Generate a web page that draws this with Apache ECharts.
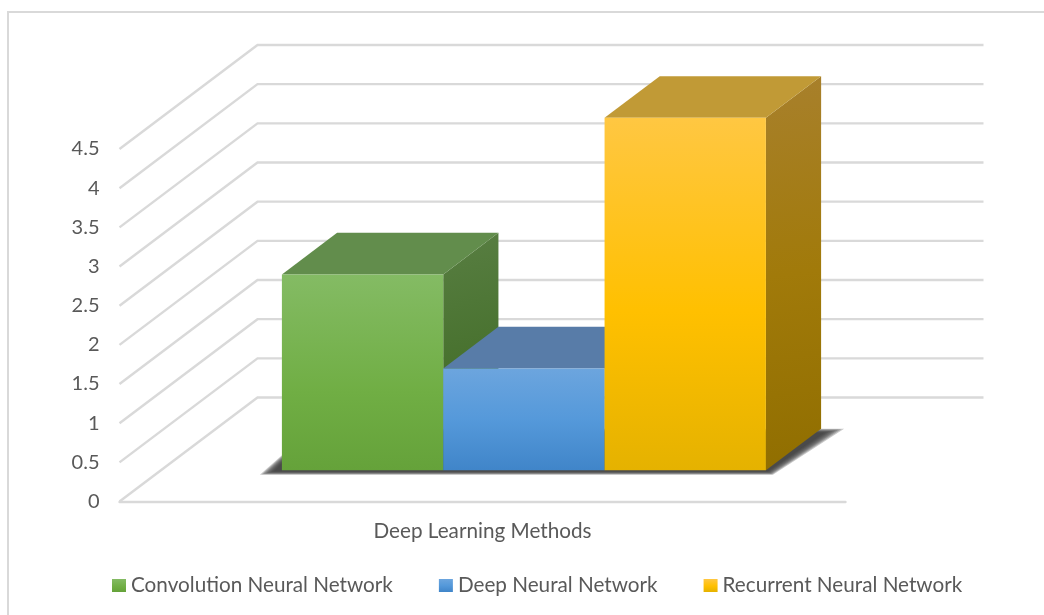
<!DOCTYPE html>
<html>
<head>
<meta charset="utf-8">
<style>html,body{margin:0;padding:0;background:#fff}#c{width:1044px;height:615px}</style>
<script src="https://cdn.jsdelivr.net/npm/echarts@6/dist/echarts.min.js"></script>
</head>
<body>
<div id="c"></div>
<script>
const categories = ["Deep Learning Methods"];
const seriesNames = ["Convolution Neural Network", "Deep Neural Network", "Recurrent Neural Network"];
const convolutionValues = [2.5];
const deepValues = [1.3];
const recurrentValues = [4.5];
const yTicks = [0, 0.5, 1, 1.5, 2, 2.5, 3, 3.5, 4, 4.5];

const G = (x2, y2, stops) => new echarts.graphic.LinearGradient(0, 0, x2, y2,
  stops.map((c, i) => ({offset: c[0], color: c[1]})));
const palette = [
  {front: [[0,'#84bb64'],[0.6,'#70ae44'],[1,'#65a23a']],
   side: [[0,'#587e42'],[0.6,'#46702c'],[1,'#426a28']], top: '#628d4c'},
  {front: [[0,'#6ca5de'],[0.5,'#5599da'],[1,'#4085c9']],
   side: [[0,'#46709c'],[1,'#2f5f8f']], top: '#587ca8'},
  {front: [[0,'#ffc742'],[0.55,'#ffc000'],[1,'#e5b200']],
   side: [[0,'#a8802c'],[0.5,'#a17a0a'],[1,'#906e00']], top: '#c19a36'}
];
const WALL_DX = 138, WALL_DY = -104, NEAR = 0.3, FAR = 0.7, GAP_RATIO = 4.5;
const LINE = '#d9d9d9';
const FONT = 'Lato';
const SHADOW_LAYERS = 8;

function wallItem(params, api) {
  const cs = params.coordSys;
  const y = api.coord([0, api.value(1)])[1];
  return {
    type: 'polyline', silent: true,
    shape: {points: [[cs.x, y], [cs.x + WALL_DX, y + WALL_DY], [cs.x + cs.width + WALL_DX, y + WALL_DY]]},
    style: {stroke: LINE, lineWidth: 2.4, fill: null}
  };
}

function shadowItem(params, api) {
  const c = api.coord([0, 0]);
  const w = api.size([1, 0])[0] / GAP_RATIO;
  const x0 = c[0] - 1.5 * w + WALL_DX * NEAR, x1 = c[0] + 1.5 * w + WALL_DX * NEAR;
  const yn = c[1] + WALL_DY * NEAR;
  const dx = WALL_DX * (FAR - NEAR), dy = WALL_DY * (FAR - NEAR);
  const children = [];
  for (let k = 0; k < SHADOW_LAYERS; k++) {
    const t = 1 - k / (SHADOW_LAYERS - 1);
    children.push({
      type: 'polygon', silent: true,
      shape: {points: [
        [x0 - 8 - 14 * t, yn + 1 + 3.5 * t],
        [x1 + 2 + 5 * t, yn + 1 + 3.5 * t],
        [x1 + dx + 3 + 20 * t, yn + dy + 4 - 4 * t],
        [x0 + 30, yn + dy + 4 - 4 * t]
      ]},
      style: {fill: 'rgba(60,60,60,0.28)'}
    });
  }
  return {type: 'group', children};
}

function barRenderer(i) {
  return function (params, api) {
    const c0 = api.coord([0, 0]), c1 = api.coord([0, api.value(1)]);
    const w = api.size([1, 0])[0] / GAP_RATIO;
    const l = c0[0] - 1.5 * w + i * w + WALL_DX * NEAR, r = l + w;
    const bot = c0[1] + WALL_DY * NEAR, top = c1[1] + WALL_DY * NEAR;
    const dx = WALL_DX * (FAR - NEAR), dy = WALL_DY * (FAR - NEAR);
    const p = palette[i];
    return {
      type: 'group',
      children: [
        {type: 'polygon', shape: {points: [[r, top], [r + dx, top + dy], [r + dx, bot + dy], [r, bot]]},
         style: {fill: G(1, 1, p.side)}},
        {type: 'polygon', shape: {points: [[l, top], [r, top], [r + dx, top + dy], [l + dx, top + dy]]},
         style: {fill: p.top}},
        {type: 'rect', shape: {x: l, y: top, width: w, height: bot - top},
         style: {fill: G(0, 1, p.front)}}
      ]
    };
  };
}

const valueSets = [convolutionValues, deepValues, recurrentValues];
const chart = echarts.init(document.getElementById('c'));
chart.setOption({
  animation: false,
  backgroundColor: '#fff',
  graphic: [{
    type: 'rect', silent: true, z: -10,
    shape: {x: 8, y: 12, width: 1200, height: 800},
    style: {fill: null, stroke: '#d9d9d9', lineWidth: 2}
  }],
  grid: {left: 119.5, top: 149, width: 726, height: 352.5},
  legend: {
    left: 107, top: 570, itemWidth: 14, itemHeight: 13, itemGap: 46,
    data: seriesNames, selectedMode: false,
    icon: 'rect',
    textStyle: {color: '#595959', fontFamily: FONT, fontSize: 20.7}
  },
  xAxis: {
    type: 'category', data: categories,
    axisLine: {show: true, lineStyle: {color: LINE, width: 2.4}},
    axisTick: {show: false},
    splitLine: {show: false},
    axisLabel: {color: '#595959', fontFamily: FONT, fontSize: 20.7, margin: 19}
  },
  yAxis: {
    type: 'value', min: 0, max: 4.5, interval: 0.5,
    axisLine: {show: false}, axisTick: {show: false}, splitLine: {show: false},
    axisLabel: {color: '#595959', fontFamily: FONT, fontSize: 20, margin: 20, padding: [4, 0, 0, 0]}
  },
  series: [
    {type: 'custom', name: 'walls', silent: true, renderItem: wallItem,
     data: yTicks.map(v => [0, v]), encode: {x: 0, y: 1}, z: 1},
    {type: 'custom', name: 'shadow', silent: true, renderItem: shadowItem,
     data: [[0, 0]], encode: {x: 0, y: 1}, z: 2}
  ].concat(seriesNames.map((name, i) => ({
    type: 'custom', name, renderItem: barRenderer(i),
    data: valueSets[i].map((v, k) => [k, v]), encode: {x: 0, y: 1}, z: 3,
    itemStyle: {color: G(0, 1, palette[i].front)}
  })))
});
</script>
</body>
</html>
